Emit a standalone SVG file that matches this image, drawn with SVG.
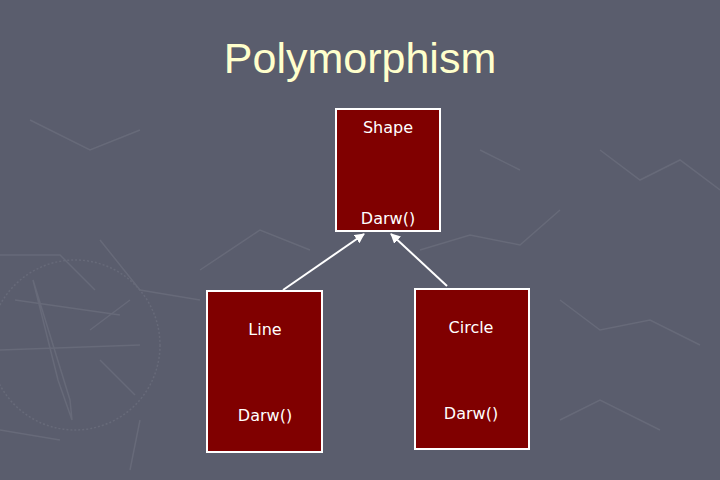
<svg xmlns="http://www.w3.org/2000/svg" width="720" height="480" viewBox="0 0 720 480">
<defs>
<style>
.bg{fill:#5a5d6d}
.deco{fill:none;stroke:#676a79;stroke-width:1.5}
.box{fill:#800000;stroke:#ffffff;stroke-width:2}
.lbl{font-family:"DejaVu Sans","Liberation Sans",sans-serif;font-size:16px;fill:#ffffff;text-anchor:middle}
.title{font-family:"Liberation Sans",Arial,sans-serif;font-size:43px;fill:#ffffcc;text-anchor:middle}
.conn{stroke:#ffffff;stroke-width:2;fill:none;marker-end:url(#arr)}
</style>
<marker id="arr" viewBox="0 0 10 10" refX="9" refY="5" markerWidth="5" markerHeight="5" orient="auto">
<path d="M0,0 L10,5 L0,10 z" fill="#ffffff"/>
</marker>
</defs>
<rect class="bg" x="0" y="0" width="720" height="480"/>
<g id="decoration">
<circle class="deco" cx="75" cy="345" r="85" stroke-dasharray="2 2" stroke-width="6"/>
<path class="deco" d="M33,280 L70,400 L72,420 L58,380 Z" fill="#646776"/>
<path class="deco" d="M0,350 L140,345 M15,300 L120,315 M90,330 L130,300 M100,360 L135,395 M0,255 L60,255 L95,290 M100,240 L140,290 L200,300 M200,270 L260,230 L310,250 M140,420 L130,470 M0,430 L60,440"/>
<path class="deco" d="M420,250 L470,235 L520,245 L560,210 M560,300 L600,330 L650,320 L700,345 M600,150 L640,180 L680,160 L720,190 M30,120 L90,150 L140,130 M480,150 L520,170 M560,420 L600,400 L660,430"/>
</g>
<text class="title" x="360" y="73">Polymorphism</text>
<g id="connectors">
<line class="conn" x1="283" y1="290" x2="364" y2="234"/>
<line class="conn" x1="447" y1="286" x2="391" y2="234"/>
</g>
<g id="shape">
<rect class="box" x="336" y="109" width="104" height="122"/>
<text class="lbl" x="388" y="133">Shape</text>
<text class="lbl" x="388" y="224">Darw()</text>
</g>
<g id="line">
<rect class="box" x="207" y="291" width="115" height="161"/>
<text class="lbl" x="265" y="335">Line</text>
<text class="lbl" x="265" y="421">Darw()</text>
</g>
<g id="circle">
<rect class="box" x="415" y="289" width="114" height="160"/>
<text class="lbl" x="471" y="333">Circle</text>
<text class="lbl" x="471" y="419">Darw()</text>
</g>
</svg>
